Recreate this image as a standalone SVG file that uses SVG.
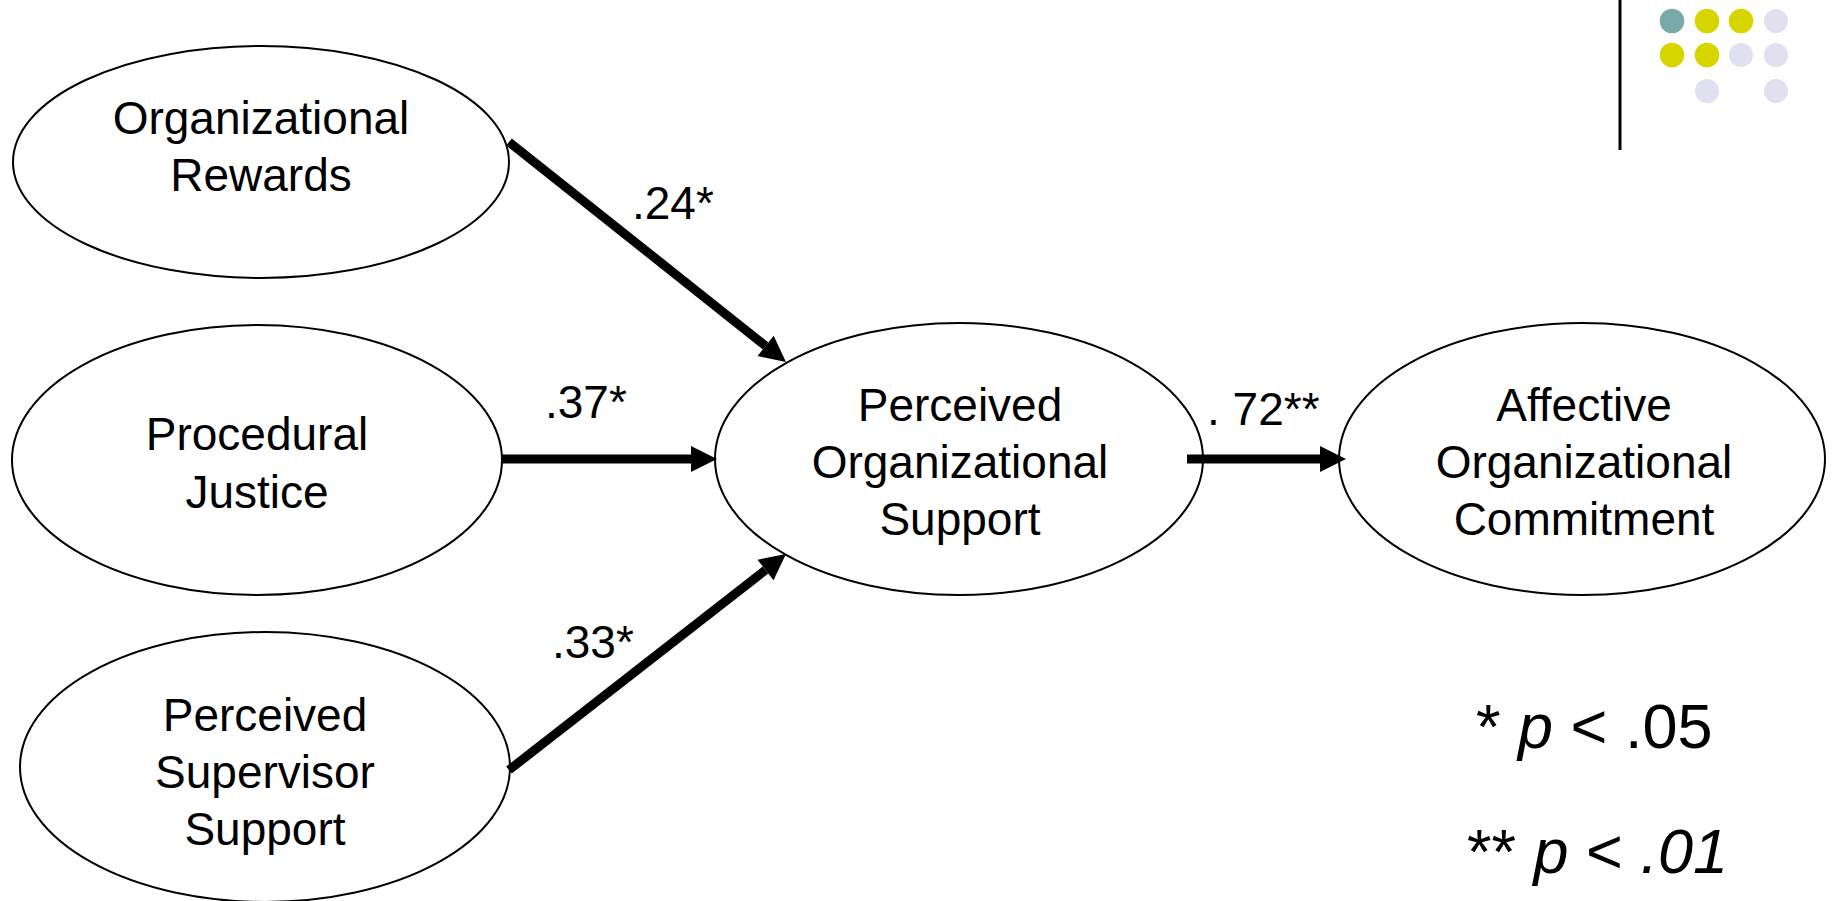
<svg xmlns="http://www.w3.org/2000/svg" width="1837" height="901" viewBox="0 0 1837 901">
  <style>
    .node { fill: #ffffff; stroke: #000000; stroke-width: 2; }
    .lbl { font-family: "Liberation Sans", Arial, sans-serif; font-size: 46px; fill: #000000; text-anchor: middle; }
    .coef { font-family: "Liberation Sans", Arial, sans-serif; font-size: 46px; fill: #000000; }
    .legend { font-family: "Liberation Sans", Arial, sans-serif; font-size: 63px; fill: #000000; }
    .edge { stroke: #000000; stroke-width: 9; fill: none; marker-end: url(#head); }
    .teal { fill: #7aaaa7; }
    .olive { fill: #d6d500; }
    .lilac { fill: #e0e0f0; }
  </style>
  <defs>
    <marker id="head" markerUnits="userSpaceOnUse" markerWidth="26" markerHeight="26" refX="0" refY="13" orient="auto" overflow="visible">
      <path d="M0,0 L26,13 L0,26 Z" fill="#000000"/>
    </marker>
  </defs>

  <rect width="1837" height="901" fill="#ffffff"/>

  <!-- corner ornament: rule and dot grid -->
  <g id="ornament">
    <line x1="1620" y1="0" x2="1620" y2="150" stroke="#000000" stroke-width="3"/>
    <circle class="teal" cx="1672" cy="21" r="12.3"/>
    <circle class="olive" cx="1707" cy="21" r="12.3"/>
    <circle class="olive" cx="1741" cy="21" r="12.3"/>
    <circle class="lilac" cx="1776" cy="21" r="12"/>
    <circle class="olive" cx="1672" cy="55" r="12.3"/>
    <circle class="olive" cx="1707" cy="55" r="12.3"/>
    <circle class="lilac" cx="1741" cy="55" r="12"/>
    <circle class="lilac" cx="1776" cy="55" r="12"/>
    <circle class="lilac" cx="1707" cy="91" r="12"/>
    <circle class="lilac" cx="1776" cy="91" r="12"/>
  </g>

  <g id="organizational-rewards">
    <ellipse class="node" cx="261" cy="162" rx="248" ry="116"/>
    <text class="lbl" x="261" y="134">Organizational</text>
    <text class="lbl" x="261" y="191">Rewards</text>
  </g>

  <g id="procedural-justice">
    <ellipse class="node" cx="257" cy="460" rx="245" ry="135"/>
    <text class="lbl" x="257" y="450">Procedural</text>
    <text class="lbl" x="257" y="508">Justice</text>
  </g>

  <g id="perceived-supervisor-support">
    <ellipse class="node" cx="265" cy="767" rx="245" ry="135"/>
    <text class="lbl" x="265" y="731">Perceived</text>
    <text class="lbl" x="265" y="788">Supervisor</text>
    <text class="lbl" x="265" y="845">Support</text>
  </g>

  <g id="perceived-organizational-support">
    <ellipse class="node" cx="959" cy="459" rx="244" ry="136"/>
    <text class="lbl" x="960" y="421">Perceived</text>
    <text class="lbl" x="960" y="478">Organizational</text>
    <text class="lbl" x="960" y="535">Support</text>
  </g>

  <g id="affective-organizational-commitment">
    <ellipse class="node" cx="1582" cy="459" rx="243" ry="136"/>
    <text class="lbl" x="1584" y="421">Affective</text>
    <text class="lbl" x="1584" y="478">Organizational</text>
    <text class="lbl" x="1584" y="535">Commitment</text>
  </g>

  <!-- paths with coefficients, drawn over the ellipses -->
  <g id="connectors">
    <line class="edge" x1="509" y1="142" x2="765.6" y2="345.9"/>
    <line class="edge" x1="501" y1="459" x2="691" y2="459"/>
    <line class="edge" x1="509" y1="770" x2="765.5" y2="570"/>
    <line class="edge" x1="1187" y1="459" x2="1320" y2="459"/>
    <text class="coef" x="632" y="219">.24*</text>
    <text class="coef" x="545" y="418">.37*</text>
    <text class="coef" x="552" y="658">.33*</text>
    <text class="coef" x="1207" y="425">. 72**</text>
  </g>

  <!-- significance key -->
  <g id="legend">
    <text class="legend" x="1476" y="748">* <tspan font-style="italic">p</tspan> &lt; .05</text>
    <text class="legend" x="1467" y="873">** <tspan font-style="italic">p</tspan> &lt; <tspan font-style="italic">.01</tspan></text>
  </g>
</svg>
